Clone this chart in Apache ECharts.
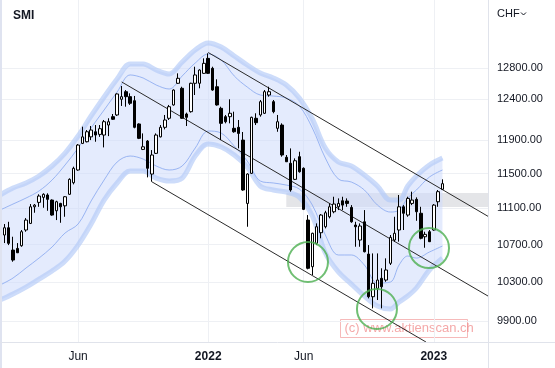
<!DOCTYPE html>
<html><head><meta charset="utf-8">
<script src="https://cdn.jsdelivr.net/npm/echarts@6/dist/echarts.min.js"></script>
<style>html,body{margin:0;padding:0;background:#fff}#c{width:555px;height:368px}</style>
</head><body><div id="c"></div>
<script>
// ---- categories: weekly bars (Mondays) ----
const firstWeekUTC = [2021, 1, 1];   // 2021-02-01
const weekCount = 103;
const tickWeeks = ['2021-06-07', '2022-01-03', '2022-06-06', '2023-01-02'];
const tickLabels = ['Jun', '2022', 'Jun', '2023'];
const yTicks = [9900, 10300, 10700, 11100, 11500, 11900, 12400, 12800];

// ---- weekly OHLC (SMI) ----
const openP = [10730,10804,10884,10640,10658,10687,10859,10932,11118,11168,11225,11252,11194,11073,11156,11129,11260,11393,11541,11857,
11877,11936,11998,11966,11958,12080,12183,12204,12400,12496,12433,12382,12093,11785,11885,11494,11738,11936,12052,12163,
12329,12603,12539,12216,12245,12603,12603,12731,12926,12796,12559,12287,12183,12183,12040,12052,11897,11156,11502,12163,
12204,12225,12454,12370,12040,12080,11691,11620,11432,11698,11561,10969,10462,10713,10829,10895,11006,11062,11118,11186,
11183,11111,10914,10749,10950,10597,10148,10234,10339,10321,10498,10749,10859,11118,11025,11156,11202,11045,10785,10840,
10859,11175,11317];
const closeP = [10690,10884,10713,10533,10611,10840,10969,11118,11137,11240,11260,11202,11025,11175,11118,11232,11432,11561,11837,11936,
11998,12019,11958,12035,12121,12121,12151,12467,12433,12433,12350,12052,11918,11816,11561,11718,11958,12052,12142,12307,
12517,12667,12163,12175,12603,12710,12774,12861,12731,12517,12329,12101,12121,12225,11998,11978,11309,11494,12175,12109,
12370,12496,12496,12245,12121,11718,11638,11309,11650,11521,11089,10445,10823,10895,11025,11051,11118,11149,11156,11137,
11156,10950,10895,10903,10622,10148,10287,10321,10251,10427,10778,10823,11118,11045,11213,11194,11062,10768,10811,10731,
11137,11290,11381.93];
const lowP = [10608,10716,10694,10515,10608,10676,10840,10925,11051,11118,11107,11073,11017,10969,10939,11006,11252,11374,11533,11849,
11869,11897,11877,11936,11809,11945,12142,12192,12316,12307,12329,12040,11909,11777,11455,11405,11730,11929,12027,12142,
12320,12594,12155,12068,12233,12454,12539,12723,12723,12508,12320,11897,12101,12101,11986,11797,11301,10895,11494,12080,
12183,12216,12433,12225,11998,11698,11635,11290,11424,11510,11081,10434,10374,10694,10768,10877,10988,11045,11081,11081,
11118,10939,10676,10676,10615,10131,10029,10114,10029,10303,10480,10731,10731,10859,11006,11137,10961,10757,10665,10727,
10851,11118,11309];
const highP = [10749,10925,10950,10785,10716,10859,10991,11149,11149,11260,11271,11271,11202,11186,11163,11240,11444,11580,11849,12060,
12019,12068,12080,12080,12142,12163,12216,12475,12568,12517,12475,12442,12101,11978,11897,11777,11978,12080,12204,12329,
12526,12731,12559,12233,12610,12817,12783,12926,12992,12817,12654,12307,12204,12400,12245,12142,11995,11502,12183,12225,
12391,12517,12559,12391,12204,12101,11718,11797,11678,11757,11572,11025,10829,10932,11036,11073,11156,11232,11213,11232,
11213,11137,10950,10932,11081,10694,10604,10604,10445,10551,10804,11006,11252,11137,11232,11290,11225,11118,10840,10859,
11149,11309,11432];

// ---- envelope bands (sampled by week index) ----
const bandWeeks = [0,3,6,9,12,15,18,21,24,27,30,33,36,39,42,45,48,51,54,57,60,63,66,69,72,75,78,81,84,87,90,92,94,96,99,102];
const bandUpperOuter = [11252,11332,11390,11471,11588,11741,11946,12192,12429,12658,12852,12852,12774,12722,12878,13036,13130,13076,12957,12839,
12735,12671,12581,12416,12154,11801,11635,11588,11482,11355,11194,11194,11355,11471,11600,11682];
const bandUpperInner = [11081,11149,11217,11298,11424,11600,11801,12044,12266,12492,12710,12671,12581,12530,12697,12865,12983,12904,12697,12555,
12454,12441,12416,12316,12044,11682,11436,11401,11309,11138,11059,11081,11217,11309,11459,11541];
const bandLowerInner = [10269,10342,10448,10554,10673,10826,10925,11183,11424,11635,11706,11670,11588,11541,11588,11801,12007,11982,11825,11646,
11413,11390,11366,11320,11138,10804,10587,10587,10480,10290,10300,10480,10576,10554,10619,10684];
const bandLowerOuter = [10114,10176,10248,10331,10416,10522,10694,10925,11194,11390,11529,11529,11447,11413,11447,11706,11849,11813,11718,11576,
11355,11309,11286,11228,11014,10608,10406,10279,10155,10053,10022,10094,10155,10238,10427,10554];

// ---- drawn trend channel (week index, price) ----
const channelUpper = [[48, 13003], [112.5, 11011]];
const channelMiddle = [[28.05, 12620], [112.5, 10155]];
const channelLower = [[35, 11404], [98.2, 9692]];
// ---- highlighted lows (circles) and resistance zone ----
const circleMarks = [[71.0, 10512], [86.9, 10022], [98.9, 10662]];
const zoneStartWeek = 66;
const zoneLow = 11116, zoneHigh = 11274;
const lastClose = 11381.93;

// ---------------------------------------------------------
const weeks = [];
for (let i = 0; i < weekCount; i++) {
  weeks.push(new Date(Date.UTC(firstWeekUTC[0], firstWeekUTC[1], firstWeekUTC[2] + 7 * i)).toISOString().slice(0, 10));
}
const tickIdx = tickWeeks.map(w => weeks.indexOf(w));
const candles = weeks.map((w, i) => [i, openP[i], closeP[i], lowP[i], highP[i]]);
const pairs = arr => bandWeeks.map((w, i) => [w, arr[i]]);

const FONT = 'Liberation Sans, Arial, sans-serif';
const TXT = '#131722';
const XMAX = 112.5;

const chart = echarts.init(document.getElementById('c'), null, {renderer: 'canvas'});
chart.setOption({
  animation: false,
  backgroundColor: '#ffffff',
  grid: {left: 0, right: 67, top: 0, bottom: 26, containLabel: false},
  xAxis: {
    type: 'value', min: 0, max: XMAX,
    axisLine: {show: false},
    axisTick: {show: false, customValues: tickIdx},
    splitLine: {show: true, lineStyle: {color: '#eef0f4', width: 1}},
    axisLabel: {
      customValues: tickIdx, margin: 9, fontSize: 12, color: TXT, fontFamily: FONT,
      formatter: v => {
        const k = tickIdx.indexOf(Math.round(v));
        const t = tickLabels[k] || '';
        return /^\d+$/.test(t) ? '{b|' + t + '}' : t;
      },
      rich: {b: {fontWeight: 'bold', fontSize: 12, color: TXT, fontFamily: FONT}}
    }
  },
  yAxis: {
    type: 'log', logBase: 10, min: 9692, max: 13715, position: 'right',
    axisLine: {show: false},
    axisTick: {show: false, customValues: yTicks},
    splitLine: {show: true, lineStyle: {color: '#eef0f4', width: 1}},
    axisLabel: {
      customValues: yTicks, align: 'left', margin: 9, fontSize: 11, color: TXT, fontFamily: FONT,
      formatter: v => Number(v).toFixed(2)
    }
  },
  series: [
    { // band fill
      type: 'custom', z: 1, silent: true, data: [[0, bandUpperOuter[0]]],
      renderItem: (params, api) => {
        const pts = [];
        bandWeeks.forEach((w, i) => pts.push(api.coord([w, bandUpperOuter[i]])));
        for (let i = bandWeeks.length - 1; i >= 0; i--) pts.push(api.coord([bandWeeks[i], bandLowerOuter[i]]));
        return {type: 'polygon', shape: {points: pts, smooth: 0}, style: {fill: 'rgba(205,219,251,0.55)'}};
      }
    },
    {type: 'line', z: 2, silent: true, smooth: 0.35, showSymbol: false, data: pairs(bandUpperOuter),
     lineStyle: {width: 5, color: 'rgba(178,201,248,0.65)'}},
    {type: 'line', z: 2, silent: true, smooth: 0.35, showSymbol: false, data: pairs(bandLowerOuter),
     lineStyle: {width: 5, color: 'rgba(178,201,248,0.65)'}},
    {type: 'line', z: 2, silent: true, smooth: 0.35, showSymbol: false, data: pairs(bandUpperInner),
     lineStyle: {width: 1, color: 'rgba(140,170,240,0.85)'}},
    {type: 'line', z: 2, silent: true, smooth: 0.35, showSymbol: false, data: pairs(bandLowerInner),
     lineStyle: {width: 1, color: 'rgba(140,170,240,0.85)'}},
    { // resistance zone
      type: 'line', z: 3, silent: true, data: [], showSymbol: false,
      markArea: {silent: true, itemStyle: {color: 'rgba(195,198,205,0.45)'},
        data: [[{xAxis: zoneStartWeek, yAxis: zoneLow}, {xAxis: XMAX, yAxis: zoneHigh}]]}
    },
    {type: 'line', z: 4, silent: true, showSymbol: false, data: channelUpper, lineStyle: {width: 1, color: '#2a2a2a'}},
    {type: 'line', z: 4, silent: true, showSymbol: false, data: channelMiddle, lineStyle: {width: 1, color: '#2a2a2a'}},
    {type: 'line', z: 4, silent: true, showSymbol: false, data: channelLower, lineStyle: {width: 1, color: '#2a2a2a'}},
    {
      type: 'candlestick', z: 5, silent: true, barWidth: 3, data: candles,
      itemStyle: {color: '#ffffff', color0: '#000000', borderColor: '#000000', borderColor0: '#000000', borderWidth: 1},
      markLine: {
        silent: true, symbol: ['none', 'none'], animation: false,
        lineStyle: {opacity: 0},
        label: {show: true, position: 'end', distance: 1, formatter: lastClose.toFixed(2),
          backgroundColor: '#000', color: '#fff', fontSize: 11, fontWeight: 'bold', fontFamily: FONT,
          padding: [3, 6, 2, 6]},
        data: [{yAxis: lastClose}]
      }
    },
    {
      type: 'scatter', z: 6, silent: true, symbol: 'circle', symbolSize: 40, data: circleMarks,
      itemStyle: {color: 'rgba(0,0,0,0)', borderColor: '#4caf50', borderWidth: 2}
    }
  ],
  graphic: [
    {type: 'rect', z: 100, shape: {x: 0, y: 0, width: 2, height: 368}, style: {fill: '#dfe3f0'}},
    {type: 'line', z: 100, shape: {x1: 488.5, y1: 0, x2: 488.5, y2: 368}, style: {stroke: '#e0e3eb', lineWidth: 1}},
    {type: 'line', z: 100, shape: {x1: 0, y1: 342.5, x2: 555, y2: 342.5}, style: {stroke: '#e0e3eb', lineWidth: 1}},
    {type: 'text', z: 100, left: 13, top: 10, style: {text: 'SMI', fill: TXT, font: 'bold 12px ' + FONT}},
    {type: 'text', z: 100, left: 497, top: 8, style: {text: 'CHF', fill: TXT, font: '11px ' + FONT}},
    {type: 'polyline', z: 100, shape: {points: [[521, 12.5], [523.5, 15], [526, 12.5]]}, style: {stroke: TXT, lineWidth: 1, fill: null}},
    {type: 'group', z: 100, left: 340, top: 319, children: [
      {type: 'rect', shape: {x: 0, y: 0, width: 127, height: 18}, style: {fill: 'rgba(255,255,255,0.35)', stroke: 'rgba(240,140,140,0.6)', lineWidth: 1}},
      {type: 'text', style: {x: 4, y: 2, text: '(c) www.aktienscan.ch', fill: 'rgba(236,110,110,0.6)', font: '13px ' + FONT}}
    ]}
  ]
});
</script></body></html>
